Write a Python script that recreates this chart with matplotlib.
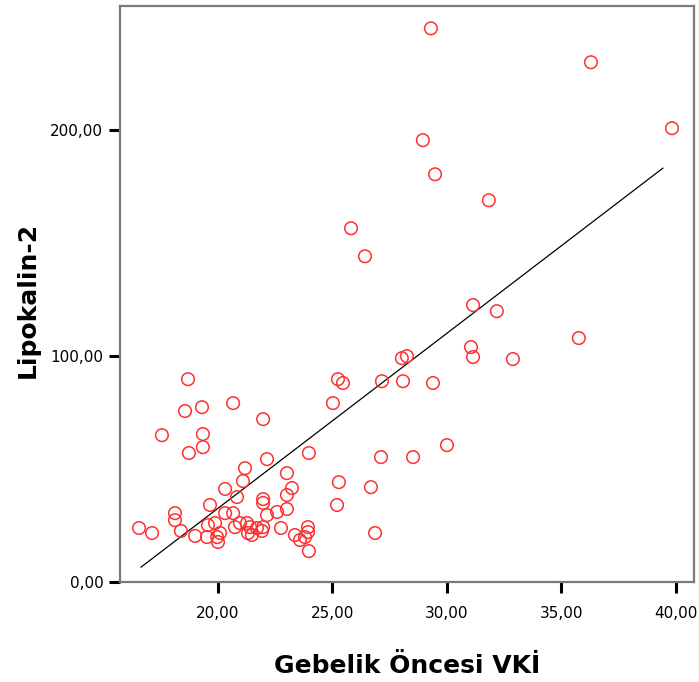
import numpy as np
import matplotlib
matplotlib.use("Agg")
import matplotlib.pyplot as plt
from matplotlib.ticker import FuncFormatter

# Gebelik oncesi VKI (x) vs Lipokalin-2 (y)
vki = [
    29.30, 36.29, 39.83, 28.95, 29.48, 31.83, 25.81, 26.42, 31.14, 32.18,
    35.76, 31.05, 31.14, 32.88, 28.03, 28.25, 27.16, 28.08, 29.39, 25.24,
    25.46, 25.02, 21.97, 20.66, 19.30, 18.56, 18.69, 17.55, 19.34, 19.34,
    18.73, 23.97, 22.14, 21.18, 21.09, 23.01, 23.23, 23.01, 20.31, 20.83,
    19.65, 21.97, 21.97, 23.01, 22.58, 22.14, 18.12, 18.12, 18.38, 16.55,
    17.12, 19.00, 19.56, 19.87, 19.52, 19.96, 20.00, 20.31, 20.66, 20.74,
    20.96, 21.27, 21.40, 21.31, 21.70, 21.92, 21.97, 21.48, 22.75, 23.36,
    23.58, 23.93, 23.93, 23.80, 23.97, 25.28, 25.20, 26.68, 26.86, 30.00,
    27.12, 28.52, 20.09,
]
lipokalin = [
    245.1, 230.1, 200.9, 195.6, 180.5, 169.0, 156.6, 144.2, 122.6, 119.9,
    108.0, 104.0, 99.6, 98.7, 99.1, 100.0, 88.9, 88.9, 88.1, 89.8,
    88.1, 79.2, 72.1, 79.2, 77.4, 75.7, 89.8, 65.0, 65.5, 59.7,
    57.1, 57.1, 54.4, 50.4, 44.7, 48.2, 41.6, 38.5, 41.2, 37.6,
    34.1, 36.7, 35.0, 32.3, 31.0, 29.6, 30.5, 27.4, 22.6, 23.9,
    21.7, 20.4, 25.2, 26.1, 19.9, 19.9, 17.7, 30.5, 30.5, 24.3,
    26.1, 26.1, 24.3, 21.7, 23.9, 22.6, 24.3, 20.8, 23.9, 20.8,
    18.6, 24.3, 22.1, 19.9, 13.7, 44.2, 34.1, 42.0, 21.7, 60.6,
    55.3, 55.3, 21.7,
]

# fit line as drawn (linear, over the plotted range)
fit_x = [16.64, 39.43]
fit_y = [6.6, 183.2]

x_ticks = [20, 25, 30, 35, 40]
y_ticks = [0, 100, 200]

fig = plt.figure(figsize=(6.99, 6.82), dpi=100)
ax = fig.add_axes([0.1717, 0.1466, 0.8211, 0.8446])

ax.scatter(vki, lipokalin, s=82, facecolors="none", edgecolors="#ff3030",
           linewidths=1.1, zorder=3)
ax.plot(fit_x, fit_y, color="black", lw=0.9, zorder=2)

ax.set_xlim(15.72, 40.79)
ax.set_ylim(0, 255)
ax.set_xticks(x_ticks)
ax.set_yticks(y_ticks)
fmt = FuncFormatter(lambda v, p: f"{v:.2f}".replace(".", ","))
ax.xaxis.set_major_formatter(fmt)
ax.yaxis.set_major_formatter(fmt)
ax.tick_params(direction="out", length=8, width=2.2, labelsize=11,
               colors="black")
ax.tick_params(axis="x", pad=9)
ax.tick_params(axis="y", pad=4)

for sp in ax.spines.values():
    sp.set_color("#7a7a7a")
    sp.set_linewidth(1.6)

ax.set_xlabel("Gebelik Öncesi VKİ", fontsize=18, fontweight="bold", labelpad=24)
ax.set_ylabel("Lipokalin-2", fontsize=18, fontweight="bold", labelpad=6)
ax.yaxis.set_label_coords(-0.14, 0.49)

fig.savefig("out.png", dpi=100)
